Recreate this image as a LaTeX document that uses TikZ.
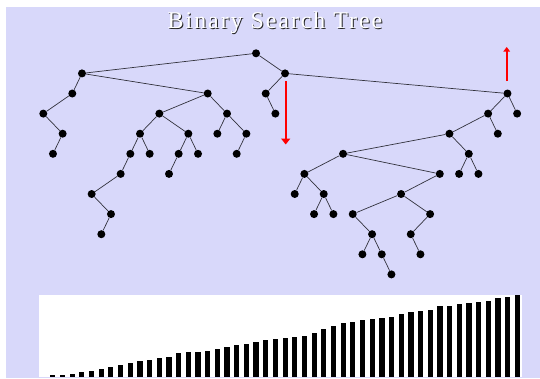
\documentclass[tikz,border=0pt]{standalone}
\usepackage{fontspec}
\newfontfamily\titlefont[LetterSpace=8]{Liberation Serif}
\usetikzlibrary{arrows.meta}
\definecolor{lav}{RGB}{216,216,250}
\definecolor{edgegray}{RGB}{50,50,60}
\tikzset{
  bst/.style={circle,fill=black,inner sep=0pt,minimum size=8pt},
  link/.style={draw=edgegray,line width=0.7pt},
  redarrow/.style={draw=red,line width=2.4pt},
  bar/.style={fill=black}
}
\begin{document}
\begin{tikzpicture}[x=1pt,y=-1pt]
\useasboundingbox (0,0) rectangle (540,378);
\fill[white] (0,0) rectangle (540,378);
\fill[lav] (6,7) rectangle (540,378);
% title
\node[anchor=base,text=black!85,font=\titlefont\fontsize{24}{26}\selectfont] (titleshadow) at (276,29.3) {Binary Search Tree};
\node[anchor=base,text=white,font=\titlefont\fontsize{24}{26}\selectfont] (title) at (275,28.3) {Binary Search Tree};
% tree nodes: index/depth (x from in-order index)
\foreach \i/\d in {0/3,1/5,2/4,3/2,4/1,5/7,6/9,7/8,8/6,9/5,10/4,11/5,12/3,13/6,14/5,15/4,16/5,17/2,18/4,19/3,20/5,21/4,22/0,23/2,24/3,25/1,26/7,27/6,28/8,29/7,30/8,31/5,32/8,33/10,34/9,35/10,36/11,37/7,38/9,39/10,40/8,41/6,42/4,43/6,44/5,45/6,46/3,47/4,48/2,49/3}
  \node[bst] (n\i) at ({43.3+9.67*\i},{53.3+20.1*\d}) {};
% edges
\foreach \a/\b in {22/4,22/25,4/3,4/17,3/0,0/2,2/1,17/12,17/19,12/10,12/15,10/9,10/11,9/8,8/5,5/7,7/6,15/14,15/16,14/13,19/18,19/21,21/20,25/23,25/48,23/24,48/46,48/49,46/42,46/47,42/31,42/44,44/43,44/45,31/27,31/41,27/26,27/29,29/28,29/30,41/37,37/32,37/40,32/34,34/33,34/35,35/36,40/38,38/39}
  \draw[link] (n\a) -- (n\b);
% red arrows
\coordinate (dtop) at (285.7,81);
\coordinate (dbot) at (285.7,144.5);
\coordinate (ubot) at (506.7,81);
\coordinate (utop) at (506.7,47);
\draw[redarrow,-{Triangle[width=9pt,length=6pt]}] (dtop) -- (dbot);
\draw[redarrow,-{Triangle[width=6.5pt,length=4.5pt]}] (ubot) -- (utop);
% bar chart
\fill[white] (39,294.5) rectangle (521.7,376.7);
\foreach \h [count=\k from 0] in {1.3,1.7,2.3,4.3,5.3,8,9.3,11.3,13.7,15.7,16.7,19,19.7,23.3,24.3,25,26,27.7,29.7,31.3,32.7,34.7,36.3,38,38.7,39.7,40.3,43.7,48,50.7,53.7,54.7,56.3,57.3,59,60,62.7,65,65.7,67,70.3,71,72.7,74,74.7,76,78.7,79.7,81.7}
  \fill[bar] ({52.8+9.68*\k-2.6},376.7) rectangle ++(5.2,-\h);
\end{tikzpicture}
\end{document}
